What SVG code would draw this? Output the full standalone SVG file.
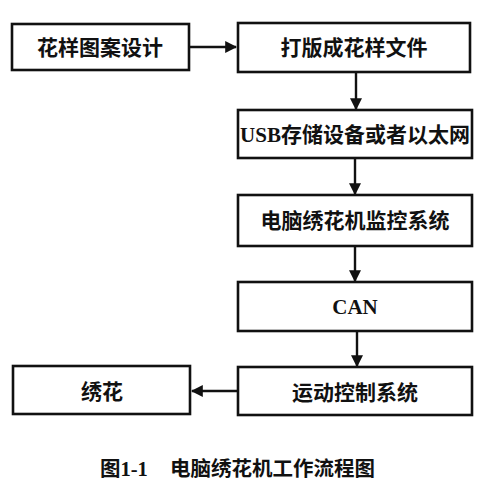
<svg xmlns="http://www.w3.org/2000/svg" width="483" height="489" viewBox="0 0 483 489">
<style>
.box{fill:#fff;stroke:#111;stroke-width:2.6}
.t{font-family:"Noto Sans CJK SC","Liberation Serif",serif;font-weight:bold;font-size:21px;fill:#111;text-anchor:middle}
.l{font-family:"Liberation Serif","Noto Sans CJK SC",serif;font-weight:bold}
.c{stroke:#111;stroke-width:2.4;fill:none}
</style>
<defs>
<marker id="ah" viewBox="0 0 10 10" refX="9" refY="5" markerWidth="5" markerHeight="5" orient="auto" markerUnits="strokeWidth">
<path d="M0,0 L10,5 L0,10 Z" fill="#111"/>
</marker>
</defs>
<rect width="483" height="489" fill="#fff"/>
<g id="connectors">
<line class="c" x1="190" y1="47" x2="236" y2="47" marker-end="url(#ah)"/>
<line class="c" x1="356" y1="72" x2="356" y2="109" marker-end="url(#ah)"/>
<line class="c" x1="355" y1="158" x2="355" y2="194" marker-end="url(#ah)"/>
<line class="c" x1="355" y1="246" x2="355" y2="281" marker-end="url(#ah)"/>
<line class="c" x1="357" y1="331" x2="357" y2="366" marker-end="url(#ah)"/>
<line class="c" x1="238" y1="391" x2="192" y2="391" marker-end="url(#ah)"/>
</g>
<g id="n1"><rect class="box" x="12" y="24" width="177" height="46"/><text class="t" x="100" y="55">花样图案设计</text></g>
<g id="n2"><rect class="box" x="238" y="23" width="232" height="49"/><text class="t" x="354" y="55">打版成花样文件</text></g>
<g id="n3"><rect class="box" x="238" y="110" width="234" height="48"/><text class="t" x="355" y="142"><tspan class="l">USB</tspan>存储设备或者以太网</text></g>
<g id="n4"><rect class="box" x="238" y="195" width="234" height="51"/><text class="t" x="355" y="228">电脑绣花机监控系统</text></g>
<g id="n5"><rect class="box" x="238" y="282" width="234" height="49"/><text class="t l" x="355" y="314">CAN</text></g>
<g id="n6"><rect class="box" x="238" y="367" width="234" height="48"/><text class="t" x="355" y="400">运动控制系统</text></g>
<g id="n7"><rect class="box" x="13" y="366" width="177" height="48"/><text class="t" x="102" y="399">绣花</text></g>
<g id="caption"><text class="t" x="100" y="476" style="text-anchor:start;font-size:20.5px">图<tspan class="l">1-1</tspan><tspan x="170">电脑绣花机工作流程图</tspan></text></g>
</svg>
